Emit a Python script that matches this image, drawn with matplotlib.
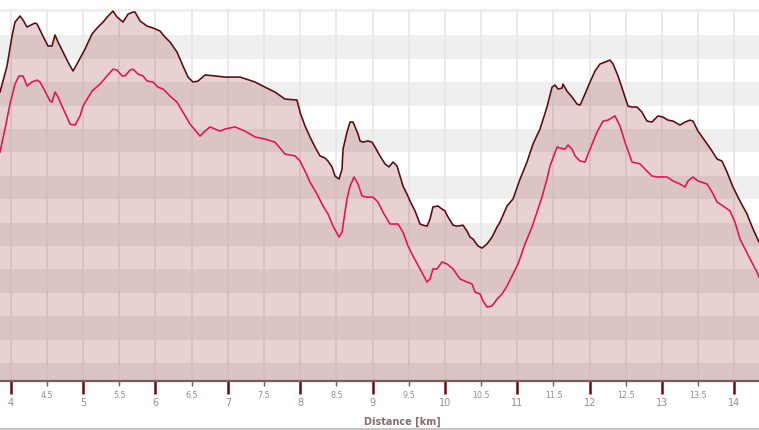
import matplotlib
matplotlib.use("Agg")
import matplotlib.pyplot as plt
from matplotlib.lines import Line2D
import numpy as np

# ---- data (distance in km, elevation-like values) ----
dist_dark = [
    3.852, 3.949, 4.018, 4.059, 4.129, 4.170, 4.225, 4.336, 4.364, 4.446,
    4.515, 4.571, 4.612, 4.654, 4.723, 4.792, 4.861, 4.930, 5.027, 5.123,
    5.206, 5.276, 5.345, 5.414, 5.469, 5.552, 5.621, 5.690, 5.718, 5.787,
    5.884, 5.966, 6.063, 6.132, 6.201, 6.298, 6.381, 6.450, 6.519, 6.588,
    6.685, 6.823, 6.961, 7.169, 7.376, 7.514, 7.652, 7.790, 7.956, 7.998,
    8.067, 8.136, 8.205, 8.274, 8.343, 8.385, 8.440, 8.481, 8.537, 8.578,
    8.592, 8.647, 8.689, 8.730, 8.758, 8.799, 8.827, 8.868, 8.937, 8.993,
    9.034, 9.103, 9.172, 9.227, 9.283, 9.338, 9.379, 9.421, 9.476, 9.518,
    9.587, 9.656, 9.697, 9.753, 9.794, 9.835, 9.904, 9.960, 10.001, 10.043,
    10.112, 10.167, 10.250, 10.305, 10.347, 10.388, 10.457, 10.513, 10.582, 10.651,
    10.720, 10.761, 10.858, 10.941, 11.038, 11.134, 11.217, 11.314, 11.410, 11.480,
    11.521, 11.563, 11.618, 11.632, 11.687, 11.756, 11.825, 11.867, 11.936, 12.005,
    12.074, 12.143, 12.212, 12.281, 12.323, 12.392, 12.461, 12.530, 12.585, 12.654,
    12.723, 12.792, 12.861, 12.903, 12.944, 13.013, 13.083, 13.152, 13.248, 13.318,
    13.387, 13.428, 13.497, 13.594, 13.691, 13.760, 13.829, 13.898, 13.981, 14.077,
    14.174, 14.257, 14.340,
]
elev_dark = [
    315.8, 326.9, 339.7, 345.7, 348.3, 346.6, 343.6, 345.3, 344.9, 339.7,
    335.5, 335.5, 340.2, 337.2, 332.9, 328.6, 324.8, 328.6, 334.2, 340.6,
    343.6, 345.7, 348.3, 350.4, 347.9, 345.7, 349.1, 350.0, 350.0, 346.2,
    344.0, 343.2, 341.9, 339.3, 337.2, 332.9, 326.9, 322.2, 320.1, 320.5,
    323.1, 322.7, 322.2, 322.2, 320.1, 317.9, 315.8, 312.8, 312.4, 307.2,
    301.3, 296.6, 292.3, 288.5, 287.6, 286.3, 283.8, 279.9, 278.6, 282.9,
    291.4, 298.7, 303.0, 303.0, 300.9, 297.9, 294.9, 294.4, 294.9, 294.4,
    292.3, 288.5, 285.1, 283.8, 285.9, 284.2, 279.9, 275.6, 272.2, 269.2,
    265.0, 259.4, 258.9, 258.5, 261.5, 266.7, 267.1, 265.8, 265.0, 262.4,
    258.9, 258.5, 258.9, 256.4, 253.8, 253.0, 250.0, 249.1, 250.9, 253.8,
    258.1, 260.2, 267.1, 270.1, 278.6, 285.9, 293.6, 300.0, 309.4, 317.9,
    318.8, 317.1, 317.5, 319.2, 316.2, 313.7, 310.7, 310.2, 315.0, 320.1,
    324.8, 327.8, 328.6, 329.5, 327.8, 322.7, 316.2, 309.8, 309.4, 309.4,
    307.2, 303.4, 303.0, 304.3, 305.6, 305.1, 303.8, 303.4, 301.7, 303.0,
    303.8, 303.4, 299.1, 294.9, 290.6, 287.2, 286.3, 281.6, 275.2, 269.2,
    263.7, 257.3, 251.7,
]

dist_pink = [
    3.852, 3.921, 3.990, 4.059, 4.115, 4.170, 4.225, 4.294, 4.364, 4.405,
    4.474, 4.543, 4.571, 4.612, 4.654, 4.709, 4.778, 4.820, 4.889, 4.958,
    4.999, 5.123, 5.234, 5.331, 5.414, 5.469, 5.538, 5.580, 5.649, 5.690,
    5.759, 5.828, 5.884, 5.966, 6.035, 6.105, 6.201, 6.298, 6.381, 6.478,
    6.616, 6.685, 6.754, 6.823, 6.892, 6.961, 7.099, 7.238, 7.376, 7.514,
    7.652, 7.790, 7.929, 7.998, 8.067, 8.136, 8.233, 8.315, 8.385, 8.454,
    8.537, 8.578, 8.647, 8.689, 8.744, 8.799, 8.854, 8.923, 9.006, 9.075,
    9.144, 9.241, 9.352, 9.421, 9.490, 9.559, 9.656, 9.753, 9.794, 9.835,
    9.891, 9.960, 10.029, 10.112, 10.209, 10.305, 10.374, 10.416, 10.485, 10.526,
    10.582, 10.651, 10.720, 10.789, 10.858, 10.927, 11.010, 11.107, 11.203, 11.272,
    11.341, 11.410, 11.452, 11.549, 11.590, 11.659, 11.701, 11.756, 11.798, 11.867,
    11.936, 12.005, 12.102, 12.185, 12.254, 12.350, 12.419, 12.488, 12.585, 12.696,
    12.792, 12.861, 12.944, 13.069, 13.152, 13.248, 13.318, 13.359, 13.428, 13.497,
    13.622, 13.691, 13.760, 13.843, 13.939, 14.008, 14.077, 14.147, 14.216, 14.312,
    14.340,
]
elev_pink = [
    290.2, 300.0, 310.7, 319.2, 322.7, 322.7, 318.4, 320.1, 320.9, 320.1,
    316.2, 312.0, 311.5, 315.8, 313.7, 309.8, 305.1, 302.1, 301.7, 305.6,
    309.8, 316.2, 319.2, 322.7, 325.6, 325.2, 322.7, 322.7, 325.2, 325.6,
    323.5, 322.7, 320.5, 320.1, 317.9, 317.1, 314.1, 311.5, 307.2, 302.1,
    297.0, 299.1, 300.9, 300.0, 299.1, 300.0, 300.9, 299.1, 296.6, 295.7,
    294.4, 289.3, 288.5, 286.3, 282.0, 277.3, 272.2, 267.1, 263.7, 258.5,
    253.8, 255.9, 270.1, 275.6, 279.5, 276.5, 271.4, 270.9, 270.9, 268.8,
    264.5, 259.4, 259.4, 255.9, 250.0, 245.7, 240.2, 234.6, 235.9, 240.2,
    240.2, 243.2, 242.3, 240.2, 235.9, 234.6, 233.8, 230.3, 229.5, 226.5,
    223.9, 224.4, 227.3, 229.5, 232.9, 237.2, 242.3, 250.9, 258.1, 264.5,
    270.9, 278.6, 284.2, 292.3, 291.9, 291.4, 293.2, 291.4, 288.5, 286.3,
    285.9, 291.4, 298.7, 303.4, 303.8, 305.6, 301.3, 294.4, 285.9, 285.1,
    282.0, 279.9, 279.5, 279.5, 277.8, 276.5, 275.2, 277.8, 279.5, 277.8,
    276.5, 273.1, 268.8, 267.1, 265.0, 260.2, 253.0, 248.7, 244.5, 238.9,
    236.7,
]

major_ticks = [4, 5, 6, 7, 8, 9, 10, 11, 12, 13, 14]
minor_ticks = [4.5, 5.5, 6.5, 7.5, 8.5, 9.5, 10.5, 11.5, 12.5, 13.5]
major_labels = ["4", "5", "6", "7", "8", "9", "10", "11", "12", "13", "14"]
minor_labels = ["4.5", "5.5", "6.5", "7.5", "8.5", "9.5", "10.5", "11.5", "12.5", "13.5"]
x_label = "Distance [km]"

W, H = 759, 431
fig = plt.figure(figsize=(W / 100, H / 100), dpi=100)
fig.patch.set_facecolor("white")
ax = fig.add_axes([0, (H - 382) / H, 1, (382 - 10) / H])

xmin, xmax = 3.852, 14.34
ymin, ymax = 192.3, 351.3
ax.set_xlim(xmin, xmax)
ax.set_ylim(ymin, ymax)
ax.set_facecolor("white")

# alternating horizontal bands
for b in range(190, 360, 10):
    if (b // 10) % 2 == 1:
        ax.axhspan(b, b + 10, color="#efefef", lw=0, zorder=0)

# vertical grid lines every 0.5 km
for xv in major_ticks + minor_ticks:
    ax.axvline(xv, color="#e6e6e6", lw=1.2, zorder=0.5)

# fills and lines
ax.fill_between(dist_dark, ymin, elev_dark, color="#8a1a1a", alpha=0.2, lw=0, zorder=1)
ax.plot(dist_dark, elev_dark, color="#5a0c0c", lw=1.15, zorder=3)
ax.plot(dist_pink, elev_pink, color="#e8104e", lw=1.15, zorder=3)

# axes styling
for s in ["top", "left", "right"]:
    ax.spines[s].set_visible(False)
ax.spines["bottom"].set_color("#7d5a5a")
ax.spines["bottom"].set_linewidth(1.6)
ax.set_yticks([])

ax.set_xticks(major_ticks)
ax.set_xticklabels(major_labels)
ax.set_xticks(minor_ticks, minor=True)
ax.set_xticklabels(minor_labels, minor=True)
ax.tick_params(axis="x", which="major", length=9, width=1.8, color="#6a0a0a",
               labelsize=7, labelcolor="#9c8a8a", pad=2.5, direction="out")
ax.tick_params(axis="x", which="minor", length=3.8, width=1.0, color="#7a5a5a",
               labelsize=5.8, labelcolor="#9c8a8a", pad=3, direction="out")

fig.text(402 / W, 1 - 422 / H, x_label, ha="center", va="center",
         fontsize=7, fontweight="bold", color="#8a6c6c")

fig.add_artist(Line2D([0, 1], [1.2 / H, 1.2 / H], transform=fig.transFigure,
                      color="#c4c4c4", lw=1.4))

fig.savefig("out.png", dpi=100, facecolor="white")
